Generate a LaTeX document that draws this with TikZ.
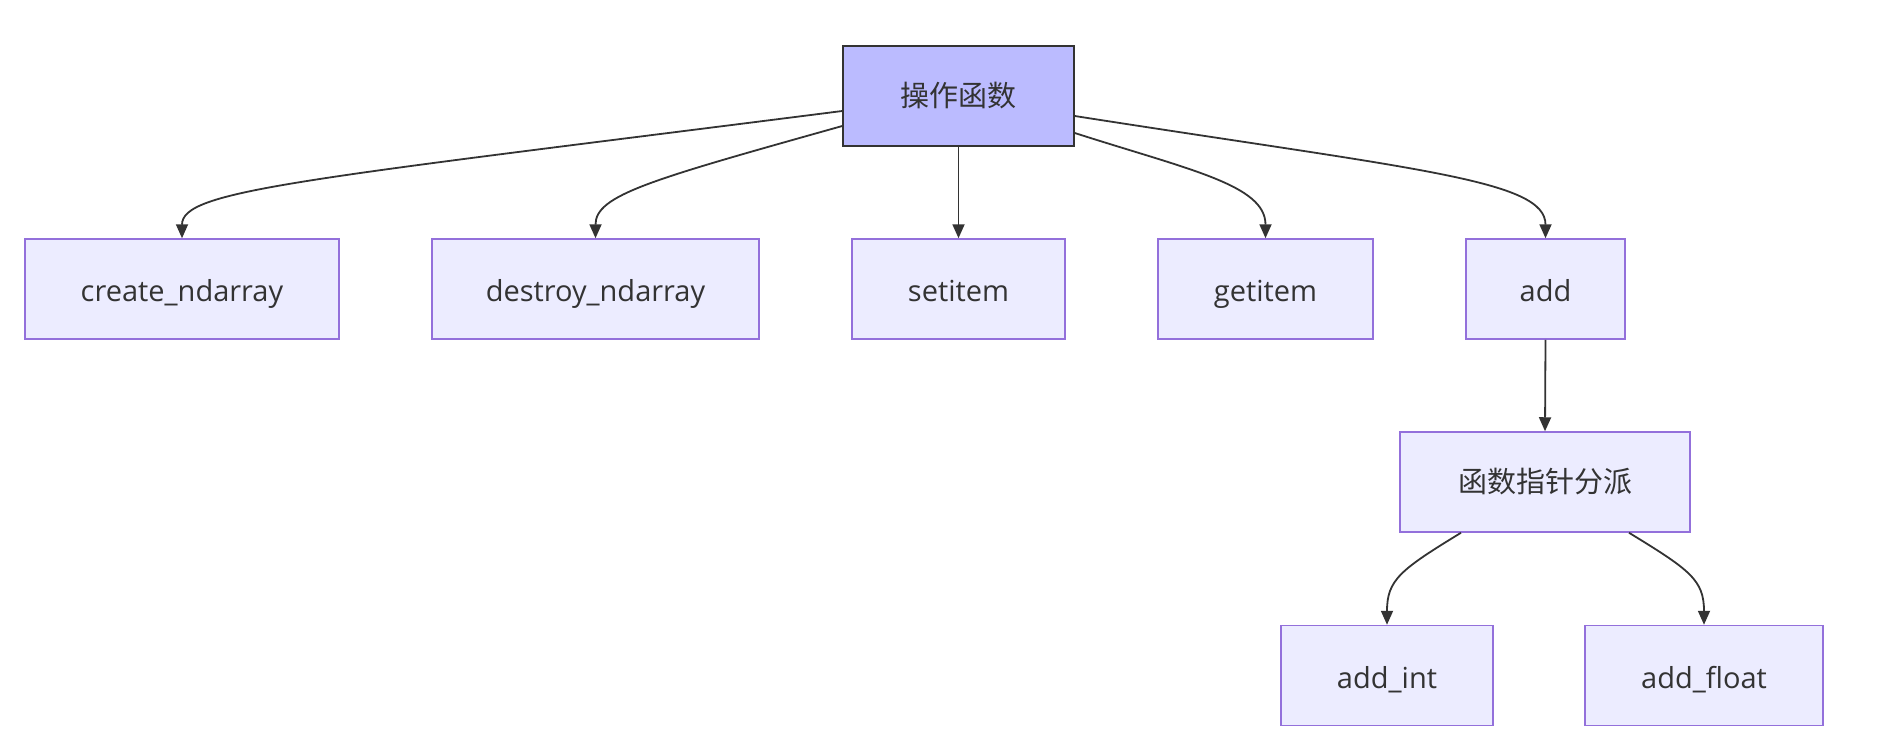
\documentclass[tikz,border=0pt]{standalone}
\usepackage{fontspec}
\setmainfont{Open Sans}
\newfontfamily\cjk{Noto Sans CJK SC}
\usetikzlibrary{arrows.meta}
\definecolor{nodefill}{HTML}{ECECFF}
\definecolor{nodeline}{HTML}{9370DB}
\definecolor{topfill}{HTML}{BBBBFF}
\definecolor{ink}{HTML}{333333}
\tikzset{
  box/.style={draw=nodeline, fill=nodefill, line width=1.5pt, minimum height=100pt, inner sep=0pt, text=ink, font=\fontsize{29}{34}\selectfont},
  latbox/.style={box, text height=27pt, text depth=2pt},
  topbox/.style={box, draw=ink, fill=topfill},
  link/.style={draw=ink, line width=1.8pt, -{Triangle[length=14pt,width=12pt]}}
}
\begin{document}
\begin{tikzpicture}[x=1pt,y=-1pt]
\useasboundingbox (0,0) rectangle (1893,753);
\node[topbox, minimum width=231pt] (top) at (958.5,96) {\cjk 操作函数};
\node[latbox, minimum width=314pt] (create) at (182,289) {create\_ndarray};
\node[latbox, minimum width=327pt] (destroy) at (595.5,289) {destroy\_ndarray};
\node[latbox, minimum width=213pt] (set) at (958.5,289) {setitem};
\node[latbox, minimum width=215pt] (get) at (1265.5,289) {getitem};
\node[latbox, minimum width=159pt] (add) at (1545.5,289) {add};
\node[box, minimum width=290pt] (disp) at (1545,482) {\cjk 函数指针分派};
\node[latbox, minimum width=212pt] (aint) at (1387,675.5) {add\_int};
\node[latbox, minimum width=238pt] (aflt) at (1704,675.5) {add\_float};

\draw[link] ([yshift=-15pt]top.west) .. controls (300,180) and (182,190) .. (create.north);
\draw[link] ([yshift=-30pt]top.west) .. controls (650,180) and (595.5,195) .. (destroy.north);
\draw[link] (top.south) -- (set.north);
\draw[link] ([yshift=-37pt]top.east) .. controls (1190,170) and (1265.5,185) .. (get.north);
\draw[link] ([yshift=-20pt]top.east) .. controls (1420,170) and (1545.5,180) .. (add.north);
\draw[link] (add.south) -- (disp.north);
\draw[link] ([xshift=-84pt]disp.south) .. controls (1400,570) and (1387,580) .. (aint.north);
\draw[link] ([xshift=84pt]disp.south) .. controls (1690,570) and (1704,580) .. (aflt.north);
\end{tikzpicture}
\end{document}
